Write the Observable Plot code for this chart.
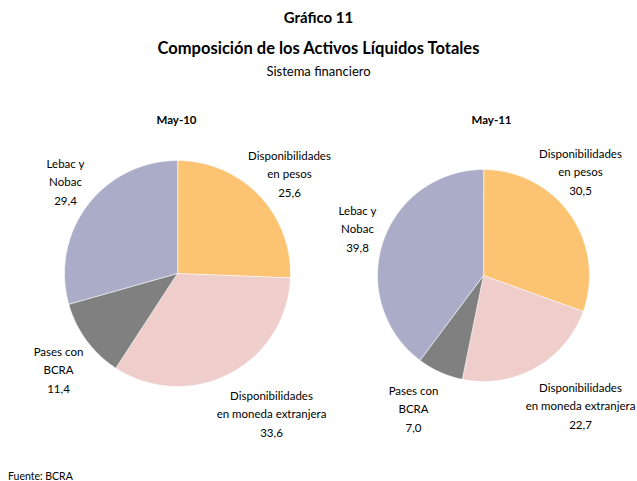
<!DOCTYPE html>
<html>
<head>
<meta charset="utf-8">
<script src="https://cdn.jsdelivr.net/npm/d3@7"></script>
<script src="https://cdn.jsdelivr.net/npm/@observablehq/plot@0.6"></script>
<style>
  html, body { margin: 0; padding: 0; background: #fff; }
  body { width: 637px; height: 481px; font-family: Lato, "Open Sans", sans-serif; color: #000; position: relative; overflow: hidden; }
  .t1 { position: absolute; left: 0; width: 637px; top: 8px; text-align: center; font-weight: bold; font-size: 15px; }
  .t2 { position: absolute; left: 0; width: 637px; top: 38px; text-align: center; font-weight: bold; font-size: 16.5px; }
  .t3 { position: absolute; left: 0; width: 637px; top: 63px; text-align: center; font-size: 13px; }
  #chart { position: absolute; left: 0; top: 85px; }
  .cap { position: absolute; left: 8px; top: 470px; font-size: 10.5px; }
</style>
</head>
<body>
<div class="t1">Gráfico 11</div>
<div class="t2">Composición de los Activos Líquidos Totales</div>
<div class="t3">Sistema financiero</div>
<div id="chart"></div>
<div class="cap">Fuente: BCRA</div>
<script>
// ---- data ----
const categories = ["Disponibilidades en pesos", "Disponibilidades en moneda extranjera", "Pases con BCRA", "Lebac y Nobac"];
const labelText = ["Disponibilidades\nen pesos", "Disponibilidades\nen moneda extranjera", "Pases con\nBCRA", "Lebac y\nNobac"];
const periods = ["May-10", "May-11"];
const valuesMay10 = [25.6, 33.6, 11.4, 29.4];
const valuesMay11 = [30.5, 22.7, 7.0, 39.8];
const seriesValues = [valuesMay10, valuesMay11];

// ---- layout / style ----
const colors = ["#FCC372", "#EFCDCB", "#808080", "#ABADC8"];
const W = 637, H = 375;
const pieCenters = [[177, 188], [483, 190]];
const pieRadii = [113, 106];
const titlePos = [[176, 35], [491, 35]];
const labelOffsets = [
  [[112, -101], [94, 139], [-119, 95], [-112, -93]],
  [[97, -105], [97, 129], [-70, 132], [-126, -48]]
];

const fmt = v => v.toFixed(1).replace(".", ",");

const slicePts = [];
const labels = [];
const titles = [];
seriesValues.forEach((vals, p) => {
  const [cx, cy] = pieCenters[p];
  const r = pieRadii[p];
  const arcs = d3.pie().sort(null)(vals);
  arcs.forEach((a, i) => {
    const key = periods[p] + "|" + categories[i];
    slicePts.push({key, cat: categories[i], x: cx, y: cy});
    const n = Math.max(2, Math.ceil((a.endAngle - a.startAngle) / 0.01));
    for (let k = 0; k <= n; k++) {
      const ang = a.startAngle + (a.endAngle - a.startAngle) * k / n;
      slicePts.push({key, cat: categories[i], x: cx + r * Math.sin(ang), y: cy - r * Math.cos(ang)});
    }
    const [dx, dy] = labelOffsets[p][i];
    labels.push({x: cx + dx, y: cy + dy, text: labelText[i] + "\n" + fmt(vals[i])});
  });
  titles.push({x: titlePos[p][0], y: titlePos[p][1], text: periods[p]});
});

const chart = Plot.plot({
  width: W,
  height: H,
  margin: 0,
  x: {domain: [0, W], range: [0, W], axis: null},
  y: {domain: [0, H], range: [0, H], axis: null},
  color: {domain: categories, range: colors},
  style: {fontFamily: "Lato, 'Open Sans', sans-serif", background: "white"},
  marks: [
    Plot.line(slicePts, {x: "x", y: "y", z: "key", fill: "cat", stroke: "white", strokeWidth: 0.6, curve: "linear-closed"}),
    Plot.text(titles, {x: "x", y: "y", text: "text", fontSize: 11.5, fontWeight: "bold", fill: "black"}),
    Plot.text(labels, {x: "x", y: "y", text: "text", fontSize: 11.5, lineHeight: 1.6, fill: "black"})
  ]
});
document.getElementById("chart").appendChild(chart);
</script>
</body>
</html>
